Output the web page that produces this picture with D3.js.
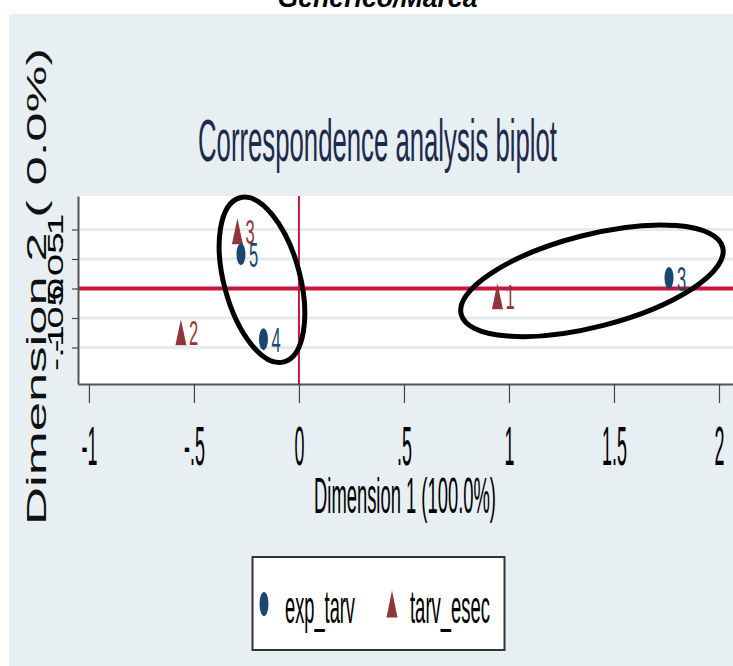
<!DOCTYPE html>
<html><head><meta charset="utf-8">
<script src="https://cdn.jsdelivr.net/npm/d3@7"></script>
<style>html,body{margin:0;padding:0;background:#fff;} svg{display:block;font-family:"Liberation Sans",Arial,sans-serif;}</style>
</head><body>
<svg id="c" width="733" height="666"></svg>
<script>
// ---- data ----
const seriesNames = ["exp_tarv", "tarv_esec"];
const expLabels = ["3", "4", "5"];
const expDim1 = [1.762, -0.169, -0.276];
const expDim2 = [0.018, -0.086, 0.058];
const tarvLabels = ["1", "2", "3"];
const tarvDim1 = [0.945, -0.562, -0.293];
const tarvDim2 = [-0.013, -0.074, 0.097];
const xTicks = [-1, -0.5, 0, 0.5, 1, 1.5, 2];
const xTickLabels = ["-1", "-.5", "0", ".5", "1", "1.5", "2"];
const yTicks = [-0.1, -0.05, 0, 0.05, 0.1];
const yTickLabels = ["-.1", "-.05", "0", ".05", ".1"];
const supTitle = "Generico/Marca";
const mainTitle = "Correspondence analysis biplot";
const xTitle = "Dimension 1 (100.0%)";
const yTitle = "Dimension 2 ( 0.0%)";
// annotation ellipses (centres in data units)
const ringCx = [-0.176, 1.395];
const ringCy = [0.0147, 0.013];

const blue = "#1a476f", red = "#90353b", refRed = "#c8163c";
const svg = d3.select("#c");
const W = 733, H = 666;

const x = d3.scaleLinear().domain([-1.052, 2.1]).range([78, 740]);
const y = d3.scaleLinear().domain([-0.1619, 0.1568]).range([384, 196]);

// backgrounds
svg.append("rect").attr("width", W).attr("height", H).attr("fill", "#fff");
svg.append("rect").attr("x", 9).attr("y", 14).attr("width", W - 9).attr("height", H - 14).attr("fill", "#e8eff2");
svg.append("rect").attr("x", x.range()[0]).attr("y", y.range()[1])
  .attr("width", W - x.range()[0]).attr("height", y.range()[0] - y.range()[1]).attr("fill", "#fff");

// gridlines
svg.append("g").selectAll("line").data(yTicks).join("line")
  .attr("x1", x.range()[0]).attr("x2", W)
  .attr("y1", d => y(d)).attr("y2", d => y(d))
  .attr("stroke", "#e3ebee").attr("stroke-width", 3);

// reference lines
svg.append("line").attr("x1", x(0)).attr("x2", x(0)).attr("y1", y.range()[1]).attr("y2", y.range()[0])
  .attr("stroke", refRed).attr("stroke-width", 2);
svg.append("line").attr("x1", x.range()[0]).attr("x2", W).attr("y1", y(0)).attr("y2", y(0))
  .attr("stroke", refRed).attr("stroke-width", 4);

// axes
const gx = svg.append("g").attr("transform", `translate(0,${y.range()[0]})`)
  .call(d3.axisBottom(x).tickValues(xTicks).tickFormat((d, i) => xTickLabels[i]).tickSize(19).tickSizeOuter(0));
gx.select(".domain").attr("stroke", "#555").attr("stroke-width", 2);
gx.selectAll(".tick line").attr("stroke", "#444").attr("stroke-width", 1.2);
gx.selectAll(".tick text").attr("y", 0).attr("dy", 0).attr("x", 0)
  .attr("font-size", 56).attr("font-family", "Liberation Sans, Arial, sans-serif")
  .attr("fill", "#000").attr("text-anchor", "middle")
  .attr("transform", "translate(0,81) scale(0.32,1)");

const gy = svg.append("g").attr("transform", `translate(${x.range()[0]},0)`)
  .call(d3.axisLeft(y).tickValues(yTicks).tickFormat((d, i) => yTickLabels[i]).tickSize(6).tickSizeOuter(0));
gy.select(".domain").attr("stroke", "#555").attr("stroke-width", 2);
gy.selectAll(".tick line").attr("stroke", "#444").attr("stroke-width", 1.2);
gy.selectAll(".tick text").attr("y", 0).attr("dy", 0).attr("x", 0)
  .attr("font-size", 22).attr("font-family", "Liberation Sans, Arial, sans-serif")
  .attr("fill", "#000").attr("text-anchor", "middle")
  .attr("transform", "translate(-15,0) rotate(-90) scale(1.8,1)");

// markers
const expPts = expDim1.map((d, i) => ({ x: d, y: expDim2[i], lab: expLabels[i] }));
const tarvPts = tarvDim1.map((d, i) => ({ x: d, y: tarvDim2[i], lab: tarvLabels[i] }));
const triPath = (cx, cy, w, h) => `M${cx},${cy - h / 2}L${cx + w / 2},${cy + h / 2}L${cx - w / 2},${cy + h / 2}Z`;

svg.append("g").selectAll("path").data(tarvPts).join("path")
  .attr("d", d => triPath(x(d.x), y(d.y), 11, 26)).attr("fill", red);
svg.append("g").selectAll("ellipse").data(expPts).join("ellipse")
  .attr("cx", d => x(d.x)).attr("cy", d => y(d.y)).attr("rx", 4.5).attr("ry", 11).attr("fill", blue);

function markerLabels(data, color) {
  svg.append("g").selectAll("text").data(data).join("text")
    .text(d => d.lab).attr("font-size", 36).attr("fill", color)
    .attr("transform", d => `translate(${x(d.x) + 8},${y(d.y) + 13}) scale(0.46,1)`);
}
markerLabels(tarvPts, red);
markerLabels(expPts, blue);

// annotation ellipses
const ringRx = [38, 135], ringRy = [85, 46], ringRot = [-15, -14.4];
svg.append("g").selectAll("ellipse").data(ringCx).join("ellipse")
  .attr("cx", 0).attr("cy", 0)
  .attr("rx", (d, i) => ringRx[i]).attr("ry", (d, i) => ringRy[i])
  .attr("transform", (d, i) => `translate(${x(d)},${y(ringCy[i])}) rotate(${ringRot[i]})`)
  .attr("fill", "none").attr("stroke", "#000").attr("stroke-width", 5);

// fitted text helper
function fitText(str, size, opts) {
  const t = svg.append("text").text(str).attr("font-size", size)
    .attr("fill", opts.fill || "#000").attr("text-anchor", "middle");
  if (opts.weight) t.attr("font-weight", opts.weight);
  if (opts.style) t.attr("font-style", opts.style);
  const L = t.node().getComputedTextLength();
  const s = opts.len / L;
  const rot = opts.rotate ? ` rotate(${opts.rotate})` : "";
  t.attr("transform", `translate(${opts.x},${opts.y})${rot} scale(${s},1)`);
  return t;
}
fitText(supTitle, 28, { x: 377.5, y: 7, len: 200, weight: "bold", style: "italic" });
fitText(mainTitle, 60, { x: 377.5, y: 161, len: 359, fill: "#1c2b4c" });
fitText(xTitle, 50, { x: 405, y: 513, len: 182 });
fitText(yTitle, 27, { x: 46, y: 286.5, len: 477, rotate: -90, fill: "#111" });

// legend
const lg = svg.append("g");
lg.append("rect").attr("x", 252.5).attr("y", 557).attr("width", 252).attr("height", 93)
  .attr("fill", "#fff").attr("stroke", "#333").attr("stroke-width", 2);
lg.append("ellipse").attr("cx", 264).attr("cy", 604).attr("rx", 4.5).attr("ry", 12).attr("fill", blue);
lg.append("path").attr("d", triPath(392, 604, 11, 27)).attr("fill", red);
const legX = [285, 410], legLen = [70, 80];
seriesNames.forEach((s, i) => {
  const t = lg.append("text").text(s).attr("font-size", 46).attr("fill", "#000");
  const L = t.node().getComputedTextLength();
  t.attr("transform", `translate(${legX[i]},623) scale(${legLen[i] / L},1)`);
});
</script>
</body></html>
